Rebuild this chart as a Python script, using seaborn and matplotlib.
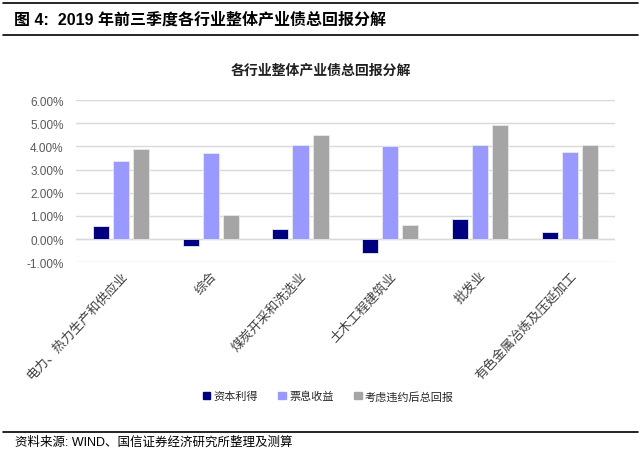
import matplotlib
matplotlib.use("Agg")
import matplotlib.pyplot as plt
import seaborn as sns
import pandas as pd
from matplotlib.ticker import FuncFormatter, MultipleLocator
from matplotlib.lines import Line2D

sns.set_theme(style="white")
plt.rcParams['font.family'] = ['Liberation Sans', 'Noto Sans CJK SC', 'DejaVu Sans']

industries = ["电力、热力生产和供应业", "综合", "煤炭开采和洗选业", "土木工程建筑业", "批发业", "有色金属冶炼及压延加工"]
capital_gain = [0.57, -0.29, 0.43, -0.60, 0.85, 0.29]
coupon_income = [3.35, 3.70, 4.06, 4.03, 4.07, 3.75]
total_return = [3.90, 1.03, 4.50, 0.61, 4.94, 4.04]
series_names = ["资本利得", "票息收益", "考虑违约后总回报"]
colors = ["#000080", "#9999FF", "#A5A5A5"]

df = pd.DataFrame({
    "industry": industries * 3,
    "series": [series_names[0]] * 6 + [series_names[1]] * 6 + [series_names[2]] * 6,
    "value": capital_gain + coupon_income + total_return,
})

fig = plt.figure(figsize=(6.41, 4.52), dpi=100)
ax = fig.add_axes([0.1186, 0.4175, 0.8404, 0.359])

sns.barplot(data=df, x="industry", y="value", hue="series", palette=colors, saturation=1,
            width=0.67, gap=0.2, ax=ax, legend=False, edgecolor="#E8E8F0", linewidth=0.6)

ax.set_ylim(-1, 6)
ax.yaxis.set_major_locator(MultipleLocator(1))
ax.yaxis.set_major_formatter(FuncFormatter(lambda v, p: f"{v:.2f}%"))
ax.grid(axis="y", color="#D9D9D9", linewidth=1)
ax.set_axisbelow(True)
for s in ax.spines.values():
    s.set_visible(False)
ax.axhline(0, color="#D9D9D9", linewidth=1, zorder=0.5)
ax.set_xlabel("")
ax.set_ylabel("")
ax.tick_params(axis="y", labelsize=8.5, colors="#595959", length=0, pad=9)
ax.tick_params(axis="x", length=0, pad=5)
ax.set_xticks(range(len(industries)))
ax.set_xticklabels(industries, rotation=47, ha="right", rotation_mode="anchor",
                   fontsize=9.3, color="#404040")
ax.set_xlim(-0.5, 5.5)

# Header
fig.add_artist(Line2D([0.005, 0.995], [1 - 4/452, 1 - 4/452], color="black", linewidth=1.2))
fig.add_artist(Line2D([0.005, 0.995], [1 - 36/452, 1 - 36/452], color="black", linewidth=1.2))
fig.text(0.022, 1 - 20/452, "图 4:  2019 年前三季度各行业整体产业债总回报分解", fontsize=11.5,
         fontweight="bold", va="center", ha="left", color="black")
fig.text(0.50, 1 - 71/452, "各行业整体产业债总回报分解", fontsize=10, fontweight="bold",
         va="center", ha="center", color="#202020")

# Legend
handles = [plt.Rectangle((0, 0), 1, 1, color=c) for c in colors]
fig.legend(handles, series_names, loc="center", bbox_to_anchor=(0.512, 1 - 397/452), ncol=3,
           frameon=False, fontsize=8, handlelength=0.7, handleheight=0.7, handletextpad=0.3,
           columnspacing=1.8)

# Footer
fig.add_artist(Line2D([0.005, 0.995], [1 - 433/452, 1 - 433/452], color="black", linewidth=1.2))
fig.text(0.024, 1 - 443/452, "资料来源: WIND、国信证券经济研究所整理及测算", fontsize=9,
         va="center", ha="left", color="black")

fig.savefig("out.png", dpi=100)
